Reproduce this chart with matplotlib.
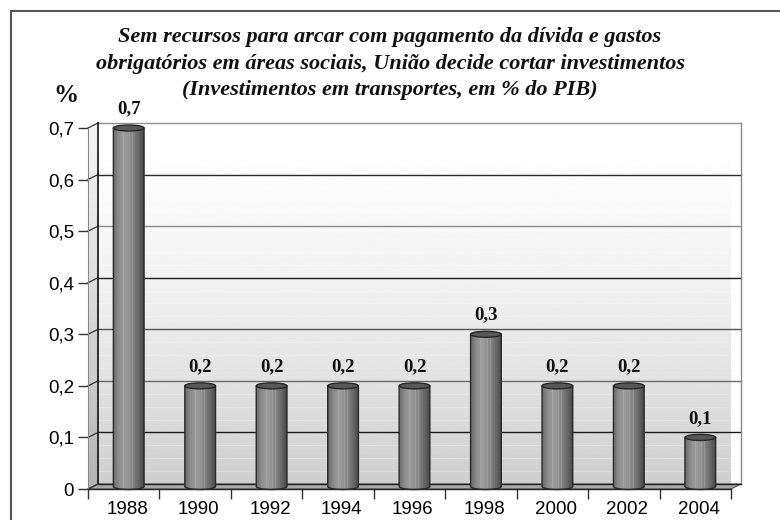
import numpy as np
import matplotlib
matplotlib.use('Agg')
import matplotlib.pyplot as plt
from matplotlib.patches import Polygon, Ellipse, PathPatch
from matplotlib.path import Path
from matplotlib.colors import LinearSegmentedColormap
from matplotlib.lines import Line2D

# data
years = ['1988', '1990', '1992', '1994', '1996', '1998', '2000', '2002', '2004']
values = [0.7, 0.2, 0.2, 0.2, 0.2, 0.3, 0.2, 0.2, 0.1]
value_labels = ['0,7', '0,2', '0,2', '0,2', '0,2', '0,3', '0,2', '0,2', '0,1']
yticks = [0, 0.1, 0.2, 0.3, 0.4, 0.5, 0.6, 0.7]
ytick_labels = ['0', '0,1', '0,2', '0,3', '0,4', '0,5', '0,6', '0,7']
title_lines = ['Sem recursos para arcar com pagamento da dívida e gastos',
               'obrigatórios em áreas sociais, União decide cortar investimentos',
               '(Investimentos em transportes, em % do PIB)']

fig = plt.figure(figsize=(7.8, 5.2), dpi=100)
fig.patch.set_facecolor('white')
ax = fig.add_axes([88/780, 31/520, 643/780, 361/520])
ax.set_facecolor('none')

n = len(years)
xmin, xmax = -0.5, n - 0.5
ymax = 0.7
# depth offset of the 3d walls (data units)
dx = 10 / (643 / n)
dy = 5 / (361 / ymax)

# back wall with vertical gradient (row 0 = top)
t = np.linspace(0, 1, 256)
wall = (1 - 0.19 * t ** 1.5)[:, None]
back = Polygon([(xmin+dx, dy), (xmax+dx, dy), (xmax+dx, ymax+dy), (xmin+dx, ymax+dy)],
               closed=True, facecolor='none', edgecolor='none')
ax.add_patch(back)
im = ax.imshow(wall, extent=(xmin+dx, xmax+dx, dy, ymax+dy), cmap='gray', vmin=0, vmax=1,
               aspect='auto', zorder=0, interpolation='bilinear')
im.set_clip_path(back)

# left side wall
side = Polygon([(xmin, 0), (xmin+dx, dy), (xmin+dx, ymax+dy), (xmin, ymax)],
               closed=True, facecolor='none', edgecolor='none')
ax.add_patch(side)
side_grad = (0.95 - 0.25 * t ** 1.3)[:, None]
im2 = ax.imshow(side_grad, extent=(xmin, xmin+dx, 0, ymax+dy), cmap='gray', vmin=0, vmax=1,
                aspect='auto', zorder=0, interpolation='bilinear')
im2.set_clip_path(side)

# faint stripes on back wall
for v in np.arange(0.025, ymax, 0.025):
    ax.plot([xmin+dx, xmax+dx], [v+dy, v+dy], color='white', lw=0.6, alpha=0.3, zorder=0.5,
            clip_on=False)

# gridlines
grid_cols = {0.1: '#1a1a1a', 0.2: '#6a6a6a', 0.3: '#555555', 0.4: '#1a1a1a',
             0.5: '#8a8a8a', 0.6: '#2a2a2a', 0.7: '#909090'}
for v in yticks[1:]:
    c = grid_cols[round(v, 1)]
    ax.plot([xmin+dx, xmax+dx], [v+dy, v+dy], color=c, lw=1, zorder=1, clip_on=False)
    ax.plot([xmin, xmin+dx], [v, v+dy], color='#333333', lw=0.9, zorder=1, clip_on=False)

# floor
floor = Polygon([(xmin, 0), (xmax, 0), (xmax+dx, dy), (xmin+dx, dy)], closed=True,
                facecolor='#a9a9a9', edgecolor='#555555', lw=0.8, zorder=1, clip_on=False)
ax.add_patch(floor)
ax.plot([xmin+dx, xmin+dx], [dy, ymax+dy], color='#111111', lw=1.2, zorder=1.2, clip_on=False)
ax.plot([xmax+dx, xmax+dx], [dy, ymax+dy], color='#8a8a8a', lw=1, zorder=1.2, clip_on=False)
ax.plot([xmin+dx, xmax+dx], [dy, dy], color='#222222', lw=1, zorder=1.2, clip_on=False)
ax.plot([xmin, xmin+dx], [0, dy], color='#333333', lw=0.9, zorder=1.2, clip_on=False)

# cylinders
cyl = LinearSegmentedColormap.from_list('cyl', ['#6a6a6a', '#8a8a8a', '#9c9c9c', '#939393',
                                                '#808080', '#666666', '#484848'])
bw = 0.43
eh = 6 / (361 / ymax)
ang = np.linspace(np.pi, 2 * np.pi, 30)
hgrad = np.linspace(0, 1, 128)[None, :]
for i, v in enumerate(values):
    cx = i + dx / 2
    base = dy / 2
    verts = [(cx - bw/2, v), (cx - bw/2, base)]
    verts += [(cx + bw/2 * np.cos(a), base + eh/2 * np.sin(a)) for a in ang]
    verts += [(cx + bw/2, v), (cx - bw/2, v)]
    body = PathPatch(Path(verts), facecolor='none', edgecolor='#2a2a2a', lw=1, zorder=3,
                     clip_on=False)
    ax.add_patch(body)
    imb = ax.imshow(hgrad, extent=(cx - bw/2, cx + bw/2, base - eh, v), cmap=cyl,
                    aspect='auto', zorder=2.5, interpolation='bilinear')
    imb.set_clip_path(body)
    # light vertical streaks
    for fx in (-0.18, 0.02, 0.12):
        ax.plot([cx + fx * bw, cx + fx * bw], [base, v], color='#b0b0b0', lw=0.5, alpha=0.6,
                zorder=2.7, clip_on=False)
    top = Ellipse((cx, v), bw, eh, facecolor='#585858', edgecolor='#262626', lw=1, zorder=4,
                  clip_on=False)
    ax.add_patch(top)
    ax.text(cx, v + 0.037, value_labels[i], ha='center', va='center', fontsize=13.5,
            fontweight='bold', family='Liberation Serif', color='#111111', zorder=5)

# axes
ax.set_xlim(xmin, xmax)
ax.set_ylim(0, ymax)
ax.set_xticks(np.arange(xmin, xmax + 0.01, 1))
ax.set_xticklabels([])
ax.set_xticks(np.arange(n) + dx / 3, minor=True)
ax.set_xticklabels(years, minor=True, fontsize=13.5, family='Liberation Sans')
ax.tick_params(axis='x', which='major', length=7, width=1, color='#333333', direction='out')
ax.tick_params(axis='x', which='minor', length=0, pad=9)
ax.set_yticks(yticks)
ax.set_yticklabels(ytick_labels, fontsize=13.5, family='Liberation Sans')
ax.tick_params(axis='y', length=7, width=1, color='#333333', pad=3)
for s in ('top', 'right'):
    ax.spines[s].set_visible(False)
ax.spines['left'].set_color('#888888')
ax.spines['left'].set_linewidth(0.8)
ax.spines['bottom'].set_color('#222222')
ax.spines['bottom'].set_linewidth(1)

# title and unit label
for k, line in enumerate(title_lines):
    fig.text(0.5, 1 - (37 + 26.5 * k) / 520, line, ha='center', va='center', fontsize=16,
             fontweight='bold', fontstyle='italic', family='Liberation Serif', color='#111111')
fig.text(66/780, 1 - 96/520, '%', ha='center', va='center', fontsize=18, fontweight='bold',
         family='Liberation Serif', color='#111111')

# outer frame
fig.add_artist(Line2D([11/780, 1], [1 - 11/520, 1 - 11/520], color='#555555', lw=1.5))
fig.add_artist(Line2D([11/780, 11/780], [0, 1 - 11/520], color='#555555', lw=1.5))

fig.savefig('out.png', dpi=100)
